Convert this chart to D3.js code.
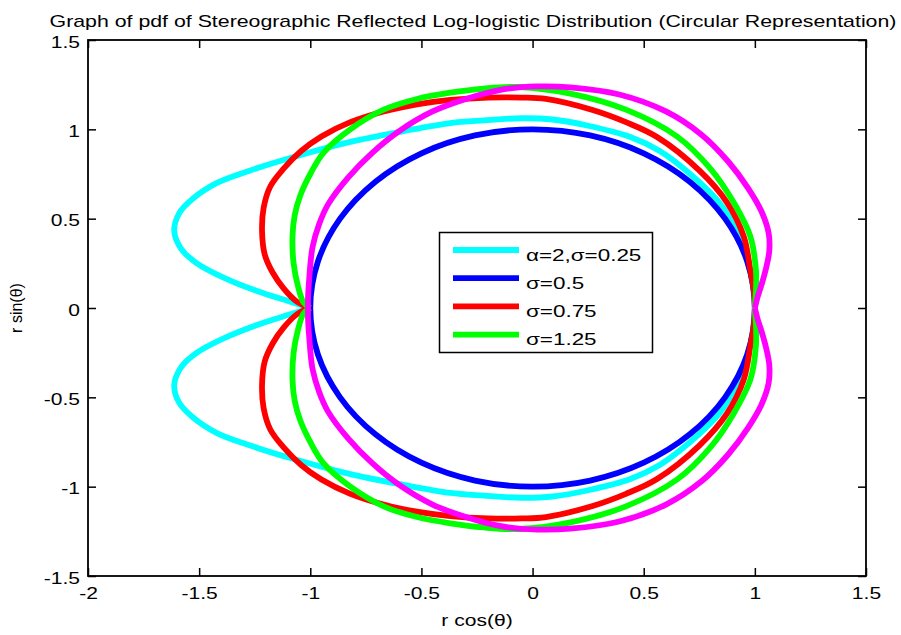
<!DOCTYPE html>
<html>
<head>
<meta charset="utf-8">
<script src="https://cdn.jsdelivr.net/npm/d3@7"></script>
<style>
  body { margin: 0; background: #fff; }
  text { font-family: Arial, "Liberation Sans", sans-serif; fill: #000; }
</style>
</head>
<body>
<script>
// ---- data ----
const xTicks = [-2, -1.5, -1, -0.5, 0, 0.5, 1, 1.5];
const yTicks = [-1.5, -1, -0.5, 0, 0.5, 1, 1.5];
const legendLabels = ["α=2,σ=0.25", "σ=0.5", "σ=0.75", "σ=1.25"];

// alpha=2, sigma=0.25 (cyan)
const cyanPts = [
  [-1.00,0.00],[-1.09,0.035],[-1.24,0.095],[-1.39,0.17],[-1.51,0.25],[-1.58,0.33],[-1.612,0.43],
  [-1.59,0.53],[-1.53,0.61],[-1.42,0.70],[-1.27,0.77],[-1.09,0.84],[-0.82,0.93],[-0.58,0.99],
  [-0.37,1.035],[-0.22,1.05],[-0.05,1.062],[0.09,1.055],[0.25,1.02],[0.44,0.957],[0.57,0.88],
  [0.69,0.77],[0.84,0.59],[0.93,0.40],[0.97,0.25],[0.99,0.13],[1.00,0.00],
  [0.99,-0.13],[0.97,-0.25],[0.93,-0.40],[0.84,-0.59],[0.69,-0.77],[0.57,-0.88],[0.44,-0.957],
  [0.25,-1.02],[0.09,-1.055],[-0.05,-1.062],[-0.22,-1.05],[-0.37,-1.035],[-0.58,-0.99],[-0.82,-0.93],
  [-1.09,-0.84],[-1.27,-0.77],[-1.42,-0.70],[-1.53,-0.61],[-1.59,-0.53],[-1.612,-0.43],[-1.58,-0.33],
  [-1.51,-0.25],[-1.39,-0.17],[-1.24,-0.095],[-1.09,-0.035],[-1.00,0.00]
];
// sigma=0.5 (blue)
const bluePts = [
  [1,0],[0.966,0.259],[0.866,0.5],[0.707,0.707],[0.5,0.866],[0.259,0.966],[0,1],
  [-0.259,0.966],[-0.5,0.866],[-0.707,0.707],[-0.866,0.5],[-0.966,0.259],[-1,0],
  [-0.966,-0.259],[-0.866,-0.5],[-0.707,-0.707],[-0.5,-0.866],[-0.259,-0.966],[0,-1],
  [0.259,-0.966],[0.5,-0.866],[0.707,-0.707],[0.866,-0.5],[0.966,-0.259]
];
// sigma=0.75 (red)
const redPts = [
  [-1,0],[-1.06,0.035],[-1.12,0.11],[-1.17,0.2],[-1.205,0.3],[-1.217,0.43],[-1.21,0.56],[-1.18,0.68],
  [-1.12,0.78],[-1.04,0.88],[-0.95,0.96],[-0.82,1.04],[-0.67,1.1],[-0.52,1.14],[-0.37,1.165],
  [-0.2,1.178],[-0.05,1.178],[0.06,1.17],[0.27,1.108],[0.42,1.04],[0.56,0.957],[0.75,0.77],
  [0.875,0.59],[0.95,0.40],[0.98,0.21],[0.995,0.1],[1,0],
  [0.995,-0.1],[0.98,-0.21],[0.95,-0.40],[0.875,-0.59],[0.75,-0.77],[0.56,-0.957],[0.42,-1.04],
  [0.27,-1.108],[0.06,-1.17],[-0.05,-1.178],[-0.2,-1.178],[-0.37,-1.165],[-0.52,-1.14],[-0.67,-1.1],
  [-0.82,-1.04],[-0.95,-0.96],[-1.04,-0.88],[-1.12,-0.78],[-1.18,-0.68],[-1.21,-0.56],[-1.217,-0.43],
  [-1.205,-0.3],[-1.17,-0.2],[-1.12,-0.11],[-1.06,-0.035],[-1,0]
];
// sigma=1.25 (green)
const greenPts = [
  [-1,0],[-1.03,0.03],[-1.055,0.12],[-1.075,0.25],[-1.08,0.40],[-1.07,0.52],[-1.045,0.63],[-1.0,0.75],
  [-0.94,0.87],[-0.82,1.0],[-0.67,1.11],[-0.52,1.17],[-0.37,1.205],[-0.22,1.228],[-0.06,1.237],
  [0.17,1.20],[0.42,1.11],[0.65,0.96],[0.80,0.78],[0.905,0.59],[0.98,0.40],[1.005,0.21],[1.005,0.1],[1,0],
  [1.005,-0.1],[1.005,-0.21],[0.98,-0.40],[0.905,-0.59],[0.80,-0.78],[0.65,-0.96],[0.42,-1.11],
  [0.17,-1.20],[-0.06,-1.237],[-0.22,-1.228],[-0.37,-1.205],[-0.52,-1.17],[-0.67,-1.11],[-0.82,-1.0],
  [-0.94,-0.87],[-1.0,-0.75],[-1.045,-0.63],[-1.07,-0.52],[-1.08,-0.40],[-1.075,-0.25],[-1.055,-0.12],
  [-1.03,-0.03],[-1,0]
];
// extra curve (magenta, not in legend)
const magentaPts = [
  [1,0],[1.012,0.06],[1.03,0.13],[1.05,0.22],[1.065,0.32],[1.062,0.42],[1.03,0.54],[0.97,0.67],
  [0.88,0.82],[0.76,0.97],[0.6,1.1],[0.39,1.195],[0.17,1.235],[0.02,1.24],[-0.15,1.22],[-0.3,1.17],
  [-0.45,1.1],[-0.6,0.99],[-0.72,0.87],[-0.83,0.73],[-0.92,0.58],[-0.96,0.47],[-0.99,0.34],
  [-1.005,0.16],[-1.01,0.06],[-1.01,0],
  [-1.01,-0.06],[-1.005,-0.16],[-0.99,-0.34],[-0.96,-0.47],[-0.92,-0.58],[-0.83,-0.73],[-0.72,-0.87],
  [-0.6,-0.99],[-0.45,-1.1],[-0.3,-1.17],[-0.15,-1.22],[0.02,-1.24],[0.17,-1.235],[0.39,-1.195],
  [0.6,-1.1],[0.76,-0.97],[0.88,-0.82],[0.97,-0.67],[1.03,-0.54],[1.062,-0.42],[1.065,-0.32],
  [1.05,-0.22],[1.03,-0.13],[1.012,-0.06],[1,0]
];

// ---- layout ----
var width = 901, height = 635;
var padL = 88, padR = 866, padT = 40, padB = 576;
var sx = 1.24;   // the reference text is stretched sideways

var svg = d3.select("body").append("svg")
    .attr("width", width).attr("height", height)
    .style("background", "#fff");

var xScale = d3.scaleLinear().domain([-2, 1.5]).range([padL, padR]);
var yScale = d3.scaleLinear().domain([-1.5, 1.5]).range([padB, padT]);

var curves = [
  {pts: cyanPts, color: "#00ffff", closed: false},
  {pts: bluePts, color: "#0000ff", closed: true},
  {pts: redPts, color: "#ff0000", closed: false},
  {pts: greenPts, color: "#00ff00", closed: false},
  {pts: magentaPts, color: "#ff00ff", closed: false}
];

var plot = svg.append("g");
curves.forEach(function(c){
  var line = d3.line()
      .x(function(d){ return xScale(d[0]); })
      .y(function(d){ return yScale(d[1]); })
      .curve(c.closed ? d3.curveCatmullRomClosed : d3.curveCatmullRom);
  plot.append("path")
      .attr("d", line(c.pts))
      .attr("fill", "none")
      .attr("stroke", c.color)
      .attr("stroke-width", 5.8)
      .attr("stroke-linejoin", "round");
});

// ---- axes (ticks inside, box) ----
var fmt = function(d){ return String(d); };
var xAxis = svg.append("g").attr("transform", "translate(0," + padB + ")")
    .call(d3.axisBottom(xScale).tickValues(xTicks).tickFormat(fmt)
      .tickSizeInner(-8).tickSizeOuter(0).tickPadding(11));
var yAxis = svg.append("g").attr("transform", "translate(" + padL + ",0)")
    .call(d3.axisLeft(yScale).tickValues(yTicks).tickFormat(fmt)
      .tickSizeInner(-8).tickSizeOuter(0).tickPadding(6.5));
var xTop = svg.append("g").attr("transform", "translate(0," + padT + ")")
    .call(d3.axisTop(xScale).tickValues(xTicks).tickFormat("")
      .tickSizeInner(-8).tickSizeOuter(0));
var yRight = svg.append("g").attr("transform", "translate(" + padR + ",0)")
    .call(d3.axisRight(yScale).tickValues(yTicks).tickFormat("")
      .tickSizeInner(-8).tickSizeOuter(0));

[xAxis, yAxis, xTop, yRight].forEach(function(a){
  a.select(".domain").remove();
  a.selectAll(".tick line").attr("stroke", "#000").attr("stroke-width", 1.5);
  a.selectAll("text").style("font-size", "17px").attr("fill", "#000")
   .attr("font-family", null);
});
xAxis.selectAll("text").attr("transform", "scale(" + sx + ",1)");
yAxis.selectAll("text").attr("dy", "0.42em").attr("transform", "scale(" + sx + ",1)");

svg.append("rect")
    .attr("x", padL).attr("y", padT)
    .attr("width", padR - padL).attr("height", padB - padT)
    .attr("fill", "none").attr("stroke", "#000").attr("stroke-width", 1.8);

// ---- titles ----
svg.append("text")
    .attr("transform", "translate(473,26.5) scale(1.255,1)")
    .attr("text-anchor", "middle").style("font-size", "17px")
    .text("Graph of pdf of Stereographic Reflected Log-logistic Distribution (Circular Representation)");
svg.append("text")
    .attr("transform", "translate(" + (padL + padR) / 2 + ",626) scale(" + sx + ",1)")
    .attr("text-anchor", "middle").style("font-size", "17px")
    .text("r cos(θ)");
svg.append("text")
    .attr("transform", "translate(22," + (padT + padB) / 2 + ") rotate(-90)")
    .attr("text-anchor", "middle").style("font-size", "16px")
    .text("r sin(θ)");

// ---- legend ----
var legend = svg.append("g");
legend.append("rect")
    .attr("x", 439.5).attr("y", 232.5).attr("width", 213).attr("height", 120)
    .attr("fill", "#fff").attr("stroke", "#000").attr("stroke-width", 1.5);
legendLabels.forEach(function(label, i){
  var ly = 250 + i * 28.2;
  legend.append("line")
      .attr("x1", 453).attr("x2", 519).attr("y1", ly).attr("y2", ly)
      .attr("stroke", curves[i].color).attr("stroke-width", 5.8);
  legend.append("text")
      .attr("transform", "translate(526," + (ly + 10.5) + ") scale(1.32,1)")
      .style("font-size", "17px")
      .text(label);
});
</script>
</body>
</html>
